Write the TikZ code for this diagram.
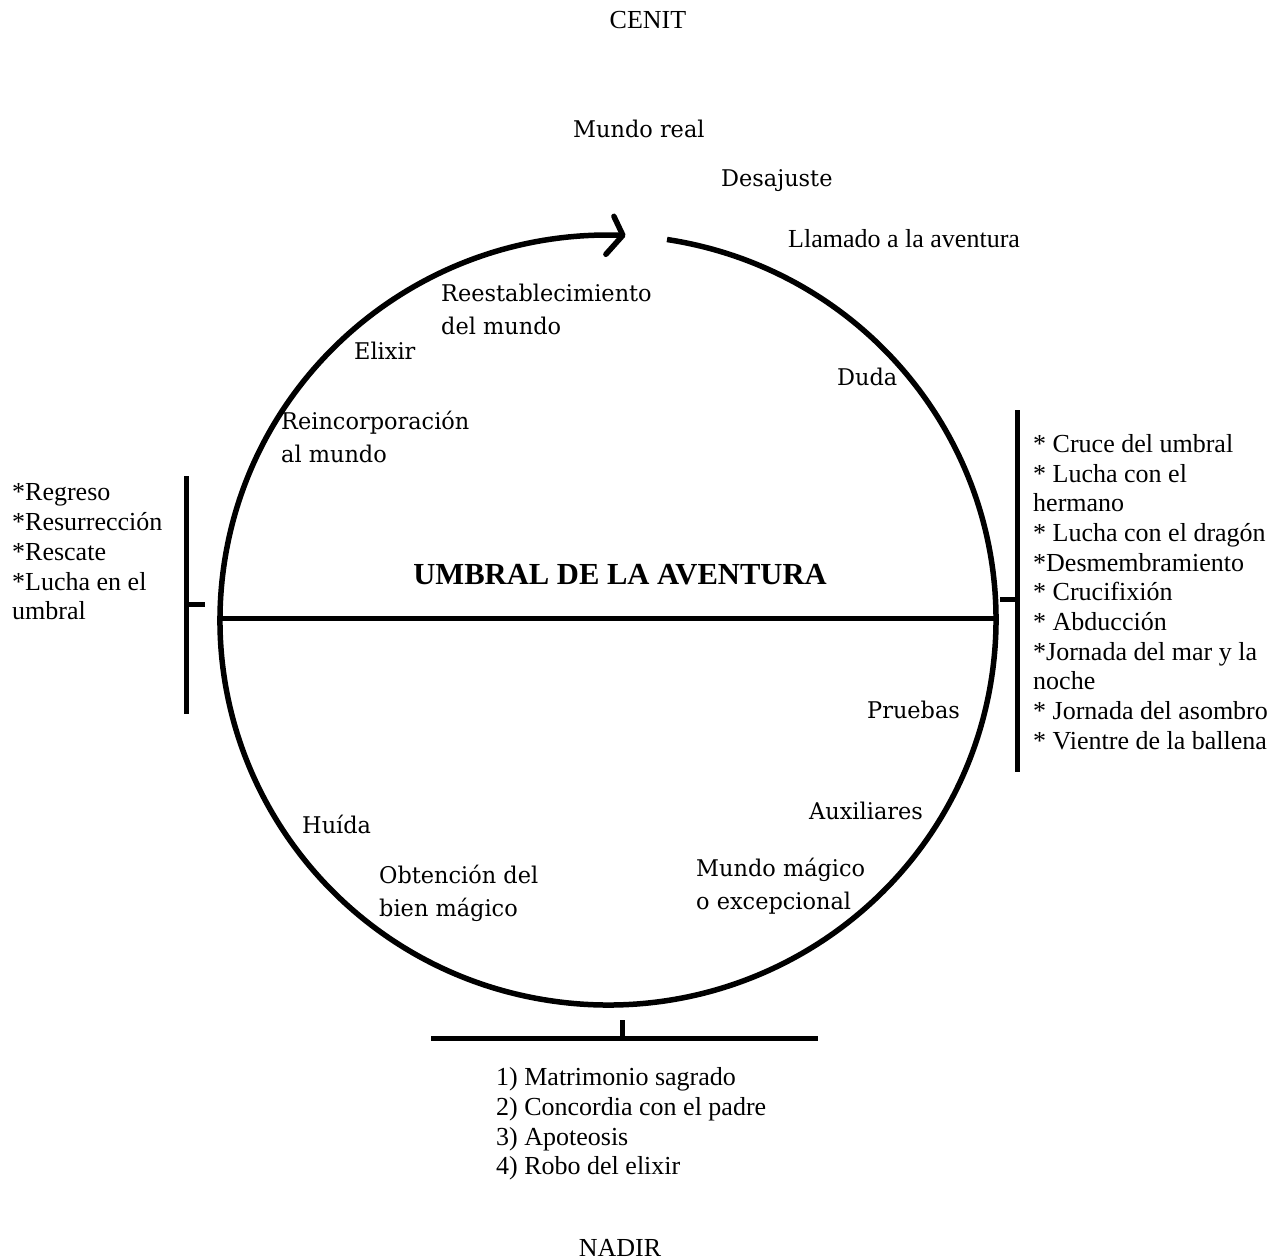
\documentclass[tikz,border=0pt]{standalone}
\usepackage{fontspec}
\setmainfont{Liberation Serif}
\newfontfamily\camb[FakeStretch=0.975]{DejaVu Serif}
\begin{document}
\begin{tikzpicture}[x=1pt,y=1pt,
  tms/.style={inner sep=0pt, font=\fontsize{26}{29.7}\selectfont, align=left},
  cmb/.style={inner sep=0pt, font=\camb\fontsize{23}{33}\selectfont, align=left},
  ring/.style={line width=5.5pt},
  bar/.style={line width=5pt},
]
\useasboundingbox (0,0) rectangle (1283,-1260);

% texts
\node[tms] (cenit) at (648,-20) {CENIT};
\node[cmb, anchor=west] (mundoreal) at (573,-129) {Mundo real};
\node[cmb, anchor=west] (desajuste) at (721,-181) {Desajuste};
\node[tms, anchor=west] (llamado) at (788,-239) {Llamado a la aventura};
\node[cmb, anchor=west] (reest) at (441,-309) {Reestablecimiento\\del mundo};
\node[cmb, anchor=west] (elixir) at (354,-351) {Elixir};
\node[cmb, anchor=west] (duda) at (837,-377) {Duda};
\node[cmb, anchor=west] (reinc) at (281,-437) {Reincorporación\\al mundo};
\node[inner sep=0pt, font=\bfseries\fontsize{30.6}{34}\selectfont] (umbral) at (620,-575) {UMBRAL DE LA AVENTURA};
\node[tms, anchor=west] (leftlist) at (12,-552) {*Regreso\\*Resurrección\\*Rescate\\*Lucha en el\\umbral};
\node[tms, anchor=west] (rightlist) at (1033,-592) {* Cruce del umbral\\* Lucha con el\\hermano\\* Lucha con el dragón\\*Desmembramiento\\* Crucifixión\\* Abducción\\*Jornada del mar y la\\noche\\* Jornada del asombro\\* Vientre de la ballena};
\node[cmb, anchor=west] (pruebas) at (867,-710) {Pruebas};
\node[cmb, anchor=west] (aux) at (809,-811) {Auxiliares};
\node[cmb, anchor=west] (huida) at (302,-824) {Huída};
\node[cmb, anchor=west] (obt) at (379,-893) {Obtención del\\bien mágico};
\node[cmb, anchor=west] (magico) at (696,-886) {Mundo mágico\\o excepcional};
\node[tms, anchor=west] (bottomlist) at (496,-1124) {1) Matrimonio sagrado\\2) Concordia con el padre\\3) Apoteosis\\4) Robo del elixir};
\node[tms] (nadir) at (620,-1248) {NADIR};

% circle with arrow
\coordinate (c) at (608,-620);
\draw[ring] (c) ++(81.25:388 and 385) coordinate (arcstart)
  arc[start angle=81.25, end angle=-272.2, x radius=388, y radius=385] coordinate (tip);
\draw[ring, line cap=round, line join=round] (tip) ++(-9,19) -- (tip) -- ++(-17,-19);

% diameter
\coordinate (west) at (220,-618);
\coordinate (east) at (997,-618);
\draw[bar] (west) -- (east);

% left bracket
\coordinate (lt) at (186,-476);
\coordinate (lb) at (186,-714);
\coordinate (lm) at (186,-604);
\draw[bar] (lt) -- (lb);
\draw[bar] (lm) -- ++(19,0);

% right bracket
\coordinate (rt) at (1017,-410);
\coordinate (rb) at (1017,-772);
\coordinate (rm) at (1017,-599);
\draw[bar] (rt) -- (rb);
\draw[bar] (rm) -- ++(-17,0);

% bottom bracket
\coordinate (bl) at (431,-1038);
\coordinate (br) at (818,-1038);
\coordinate (bm) at (622,-1038);
\draw[bar] (bl) -- (br);
\draw[bar] (bm) -- ++(0,18);
\end{tikzpicture}
\end{document}
